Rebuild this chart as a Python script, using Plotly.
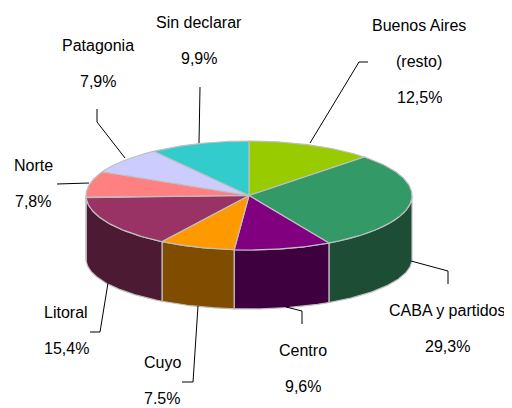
import numpy as np
import plotly.graph_objects as go

categories = ["Buenos Aires (resto)", "CABA y partidos", "Centro", "Cuyo",
              "Litoral", "Norte", "Patagonia", "Sin declarar"]
values = [12.5, 29.3, 9.6, 7.5, 15.4, 7.8, 7.9, 9.9]
label_lines = [["Buenos Aires", "(resto)", "12,5%"], ["CABA y partidos", "29,3%"],
               ["Centro", "9,6%"], ["Cuyo", "7.5%"], ["Litoral", "15,4%"],
               ["Norte", "7,8%"], ["Patagonia", "7,9%"], ["Sin declarar", "9,9%"]]
top_colors = ["#99CC00", "#339966", "#800080", "#FF9900",
              "#993366", "#FF8080", "#CCCCFF", "#33CCCC"]
side_colors = ["#4D6600", "#1E4D36", "#3F0040", "#7F4C00",
               "#4D1A33", "#804040", "#66667F", "#1A6666"]

# geometry (pixel space)
cx, cy, rx, ry = 249, 195.5, 163, 54.5
cyb, ryb = 259, 50
edge = "#BFBFBF"

tot = sum(values)
cum = np.concatenate([[0], np.cumsum(values)]) / tot

def pt(f, c_y, r_y):
    a = 2 * np.pi * f
    return cx + rx * np.sin(a), c_y - r_y * np.cos(a)

fig = go.Figure()

# side walls (front half: fractions 0.25..0.75)
for i in range(len(values)):
    a, b = max(cum[i], 0.25), min(cum[i + 1], 0.75)
    if b <= a:
        continue
    f = np.linspace(a, b, 80)
    xt, yt = pt(f, cy, ry)
    xb, yb = pt(f[::-1], cyb, ryb)
    fig.add_trace(go.Scatter(x=np.concatenate([xt, xb, xt[:1]]),
                             y=np.concatenate([yt, yb, yt[:1]]),
                             fill="toself", fillcolor=side_colors[i], mode="lines",
                             line=dict(color=edge, width=1.2), hoverinfo="skip",
                             showlegend=False))

# top face
for i in range(len(values)):
    f = np.linspace(cum[i], cum[i + 1], 100)
    xs, ys = pt(f, cy, ry)
    fig.add_trace(go.Scatter(x=np.concatenate([[cx], xs, [cx]]),
                             y=np.concatenate([[cy], ys, [cy]]),
                             fill="toself", fillcolor=top_colors[i], mode="lines",
                             line=dict(color=edge, width=1.2), name=categories[i],
                             hoverinfo="name", showlegend=False))

# labels: (center x, first line y) per category, line spacing 36
label_pos = [(419, 25), (447, 310), (303, 350), (162, 362),
             (66, 312), (33, 165), (98, 45), (199, 22)]
for lines, (lx, ly) in zip(label_lines, label_pos):
    for k, t in enumerate(lines):
        fig.add_annotation(x=lx, y=ly + 36 * k, text=t, showarrow=False,
                           xanchor="center", yanchor="middle",
                           font=dict(family="Liberation Sans, Arial", size=16, color="#000"))

leaders = [
    [(368, 62), (359, 62), (310, 143)],
    [(411, 261), (448, 271), (448, 284)],
    [(286, 307), (302, 311), (302, 324)],
    [(198, 306), (193, 382), (182, 382)],
    [(108, 283), (100, 332), (90, 332)],
    [(57, 184), (89, 183)],
    [(97, 109), (97, 122), (125, 158)],
    [(200, 87), (199, 143)],
]
for pts in leaders:
    path = "M " + " L ".join(f"{x},{y}" for x, y in pts)
    fig.add_shape(type="path", path=path, line=dict(color="#000", width=1))

# the page body has an 8px margin, so shift the axes to keep pixel alignment
fig.update_layout(width=512, height=408, margin=dict(l=0, r=0, t=0, b=0),
                  paper_bgcolor="white", plot_bgcolor="white",
                  xaxis=dict(range=[8, 520], visible=False, fixedrange=True),
                  yaxis=dict(range=[416, 8], visible=False, fixedrange=True))
fig.write_html("out.html")
